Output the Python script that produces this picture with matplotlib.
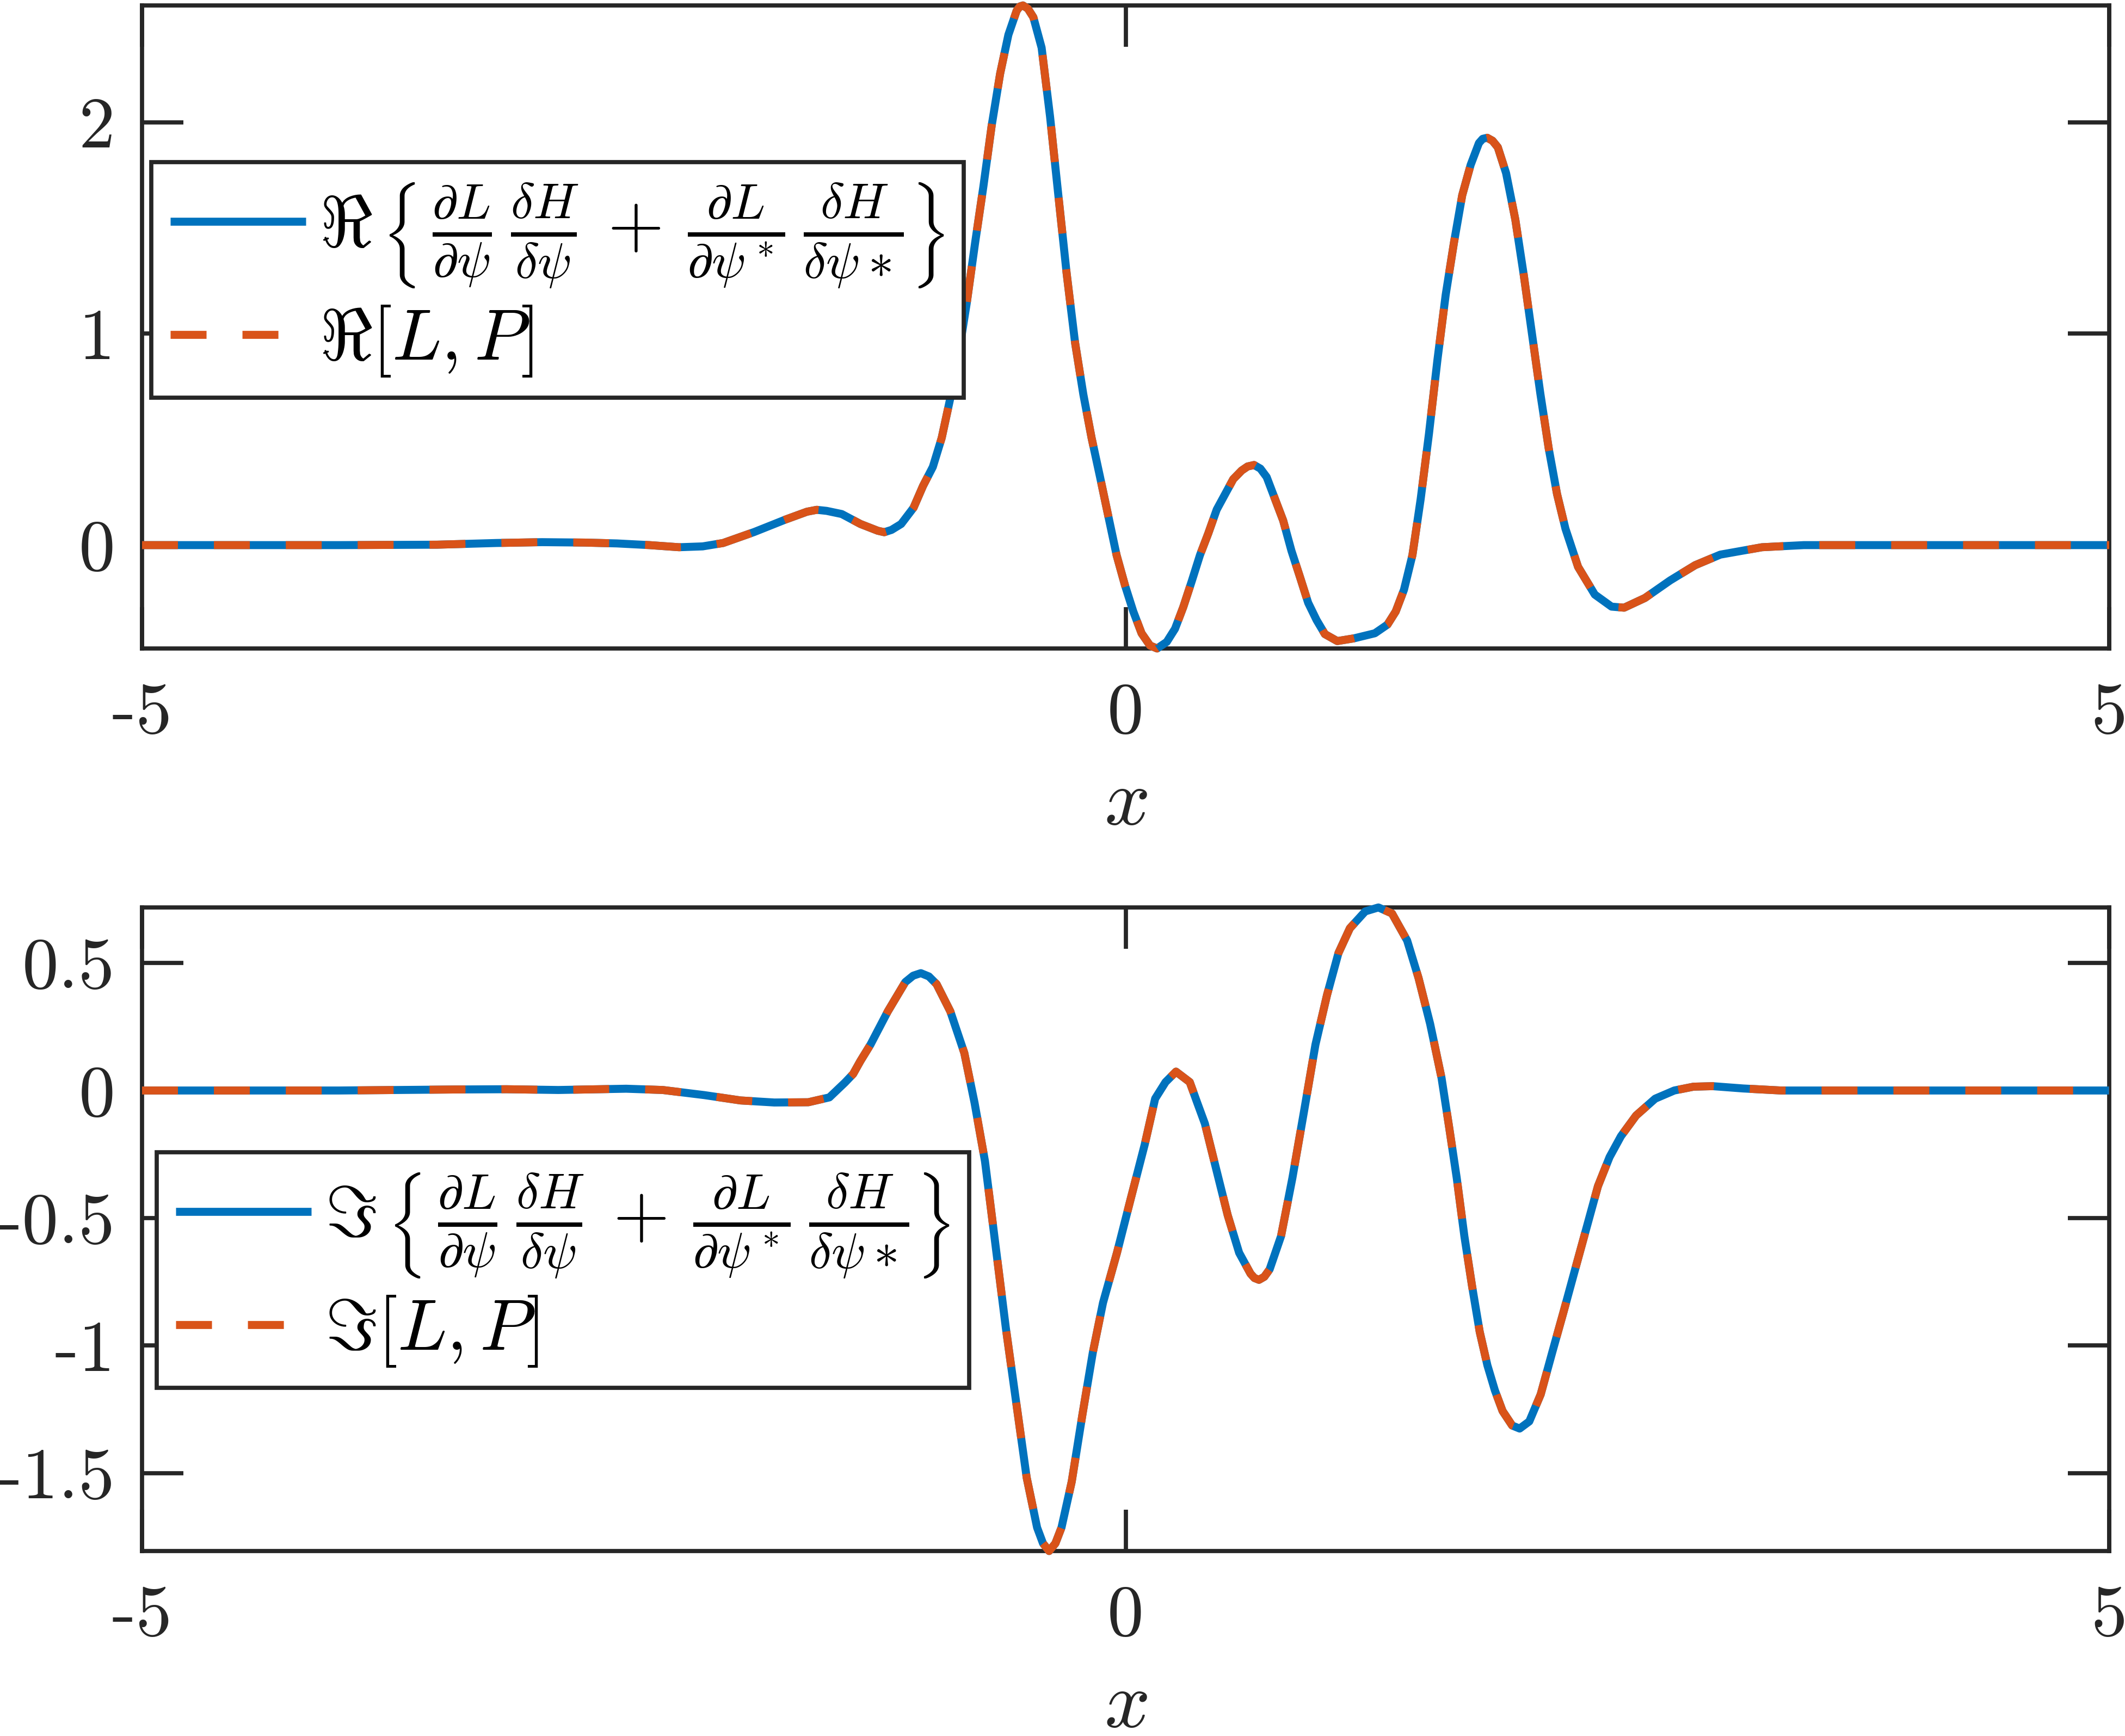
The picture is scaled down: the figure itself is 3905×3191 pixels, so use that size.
import matplotlib
matplotlib.use("Agg")
import matplotlib.pyplot as plt

plt.rcParams["mathtext.fontset"] = "cm"
plt.rcParams["axes.unicode_minus"] = False

# ---------------- data ----------------
re_x = [-5.0, -4.0, -3.5, -3.2, -2.967, -2.75, -2.586, -2.42, -2.27, -2.15, -2.046,
        -1.888, -1.729, -1.62, -1.57, -1.52, -1.443, -1.348, -1.26, -1.227, -1.19, -1.141, -1.078, -1.03, -0.98,
        -0.935, -0.892, -0.85, -0.808, -0.765, -0.723, -0.681, -0.638, -0.596, -0.554,
        -0.538, -0.522, -0.497, -0.469, -0.427, -0.384, -0.342, -0.3, -0.257, -0.215, -0.173, -0.13,
        -0.088, -0.046, -0.003, 0.039, 0.081, 0.124, 0.16, 0.209, 0.251, 0.293, 0.336,
        0.378, 0.42, 0.463, 0.505, 0.547, 0.59, 0.62, 0.653, 0.685, 0.717, 0.759, 0.801, 0.843,
        0.886, 0.928, 0.971, 1.013, 1.076, 1.161, 1.267, 1.331, 1.373, 1.415, 1.458,
        1.5, 1.542, 1.585, 1.627, 1.669, 1.711, 1.754, 1.796, 1.815, 1.838, 1.865, 1.892, 1.934,
        1.981, 2.024, 2.066, 2.108, 2.151, 2.193, 2.236, 2.3, 2.385, 2.47, 2.534,
        2.64, 2.768, 2.895, 3.023, 3.235, 3.448, 4.0, 5.0]
re_poisson = [0.0, 0.0, 0.002, 0.01, 0.014, 0.012, 0.008, 0.0, -0.01, -0.006, 0.01,
              0.062, 0.121, 0.158, 0.167, 0.162, 0.147, 0.1, 0.068, 0.061, 0.072, 0.1, 0.177, 0.28, 0.37,
              0.507, 0.692, 0.896, 1.143, 1.431, 1.697, 1.984, 2.23, 2.414, 2.528,
              2.548, 2.553, 2.538, 2.497, 2.353, 2.026, 1.655, 1.287, 0.958, 0.713, 0.507, 0.322,
              0.137, -0.047, -0.191, -0.314, -0.417, -0.475, -0.489, -0.458, -0.396, -0.293, -0.171,
              -0.047, 0.055, 0.168, 0.24, 0.312, 0.353, 0.372, 0.379, 0.362, 0.322, 0.219, 0.116, -0.027,
              -0.15, -0.273, -0.355, -0.421, -0.454, -0.441, -0.417, -0.376, -0.314, -0.211, -0.047,
              0.219, 0.527, 0.876, 1.184, 1.431, 1.655, 1.799, 1.902, 1.922, 1.927, 1.913, 1.882, 1.76,
              1.54, 1.277, 0.997, 0.718, 0.456, 0.242, 0.077, -0.103, -0.234, -0.291, -0.296,
              -0.25, -0.167, -0.095, -0.045, -0.01, 0.0, 0.0, 0.0]
re_commutator = list(re_poisson)   # both curves coincide in the reference

im_x = [-5.0, -4.0, -3.41, -3.147, -2.884, -2.539, -2.353, -2.142, -1.957, -1.786,
        -1.613, -1.506, -1.427, -1.385, -1.348, -1.297, -1.209, -1.12, -1.08, -1.041, -1.0, -0.961,
        -0.891, -0.82, -0.768, -0.715, -0.662, -0.609, -0.556, -0.503, -0.45, -0.42, -0.389,
        -0.357, -0.326, -0.274, -0.22, -0.167, -0.115, -0.044, 0.026, 0.097, 0.15, 0.203,
        0.256, 0.326, 0.364, 0.403, 0.461, 0.519, 0.577, 0.635, 0.655, 0.678, 0.705, 0.732, 0.79,
        0.848, 0.907, 0.965, 1.024, 1.082, 1.14, 1.218, 1.285, 1.354, 1.431, 1.489,
        1.548, 1.606, 1.645, 1.683, 1.722, 1.761, 1.8, 1.839, 1.877, 1.916, 1.965,
        2.003, 2.052, 2.11, 2.168, 2.227, 2.285, 2.343, 2.401, 2.46, 2.518, 2.595,
        2.692, 2.789, 2.887, 2.984, 3.139, 3.333, 4.0, 5.0]
im_poisson = [0.0, 0.0, 0.004, 0.005, 0.002, 0.007, 0.002, -0.018, -0.039, -0.047,
              -0.046, -0.027, 0.031, 0.065, 0.116, 0.18, 0.31, 0.425, 0.45, 0.46, 0.447, 0.417,
              0.31, 0.147, -0.048, -0.277, -0.603, -0.93, -1.224, -1.517, -1.713, -1.775, -1.805,
              -1.775, -1.713, -1.533, -1.272, -1.028, -0.832, -0.636, -0.424, -0.212, -0.032, 0.033,
              0.074, 0.033, -0.048, -0.13, -0.31, -0.489, -0.636, -0.718, -0.735, -0.742, -0.73, -0.701, -0.571,
              -0.342, -0.081, 0.18, 0.375, 0.539, 0.636, 0.702, 0.7175, 0.694, 0.588, 0.441,
              0.261, 0.049, -0.146, -0.342, -0.571, -0.766, -0.946, -1.077, -1.175, -1.256, -1.313,
              -1.325, -1.297, -1.191, -1.028, -0.865, -0.701, -0.538, -0.375, -0.261, -0.179, -0.098,
              -0.032, 0.0, 0.015, 0.017, 0.008, 0.0, 0.0, 0.0]
im_commutator = list(im_poisson)

x_ticks = [-5, 0, 5]
x_tick_labels = ["-5", "0", "5"]
re_y_ticks = [0, 1, 2]
re_y_tick_labels = ["0", "1", "2"]
im_y_ticks = [-1.5, -1, -0.5, 0, 0.5]
im_y_tick_labels = ["-1.5", "-1", "-0.5", "0", "0.5"]
re_ylim = (-0.489, 2.553)
im_ylim = (-1.805, 0.7175)

frac = (r"\,\frac{\partial L}{\partial \psi}\,\frac{\delta H}{\delta \psi}\,+\,"
        r"\frac{\partial L}{\partial \psi^*}\,\frac{\delta H}{\delta \psi *}")
re_labels = [r"$\Re\,\left\{" + frac + r"\right\}$", r"$\Re[L,P]$"]
im_labels = [r"$\Im\,\left\{" + frac + r"\right\}$", r"$\Im[L,P]$"]

# ---------------- style ----------------
BLUE = "#0072BD"
ORANGE = "#D95319"
AXC = "#262626"
W, H, DPI = 3905, 3191, 300
LW = 3.53
AXLW = 1.85
TICKFS = 32
LEGFS = 32
LABELFS = 35.5

fig = plt.figure(figsize=(W / DPI, H / DPI), dpi=DPI)


def axes_px(l, t, r, b):
    return fig.add_axes([l / W, 1 - b / H, (r - l) / W, (b - t) / H])


def style(ax, yt, ytl, ylim):
    ax.set_xlim(-5, 5)
    ax.set_ylim(*ylim)
    ax.set_xticks(x_ticks)
    ax.set_xticklabels(x_tick_labels, fontfamily="cmr10", fontsize=TICKFS, color=AXC)
    ax.set_yticks(yt)
    ax.set_yticklabels(ytl, fontfamily="cmr10", fontsize=TICKFS, color=AXC)
    ax.tick_params(direction="in", top=True, right=True, length=18.2, width=AXLW, color=AXC)
    ax.tick_params(axis="x", pad=15)
    ax.tick_params(axis="y", pad=12)
    for s in ax.spines.values():
        s.set_linewidth(AXLW)
        s.set_color(AXC)
    ax.set_xlabel(r"$x$", fontsize=LABELFS, color=AXC, labelpad=7)


def draw(ax, xs, ys1, ys2, labels, anchor):
    l1, = ax.plot(xs, ys1, color=BLUE, lw=LW, solid_capstyle="butt", clip_on=False, zorder=3)
    l2, = ax.plot(xs, ys2, color=ORANGE, lw=LW, dashes=(4.49, 4.49), dash_capstyle="butt",
                  clip_on=False, zorder=3)
    leg = ax.legend([l1, l2], labels, loc="upper left", bbox_to_anchor=anchor,
                    borderaxespad=0, fontsize=LEGFS, handlelength=1.87, handletextpad=0.19,
                    borderpad=0.26, labelspacing=0.19, frameon=True, fancybox=False,
                    edgecolor=AXC, framealpha=1)
    leg.get_frame().set_linewidth(AXLW)
    for t in leg.get_texts():
        t.set_color("black")


ax1 = axes_px(261, 10, 3876, 1192)
style(ax1, re_y_ticks, re_y_tick_labels, re_ylim)
draw(ax1, re_x, re_poisson, re_commutator, re_labels, (0.0047, 0.7563))

ax2 = axes_px(261, 1668, 3876, 2851)
style(ax2, im_y_ticks, im_y_tick_labels, im_ylim)
draw(ax2, im_x, im_poisson, im_commutator, im_labels, (0.0075, 0.6196))

fig.savefig("out.png", dpi=DPI, facecolor="white")
